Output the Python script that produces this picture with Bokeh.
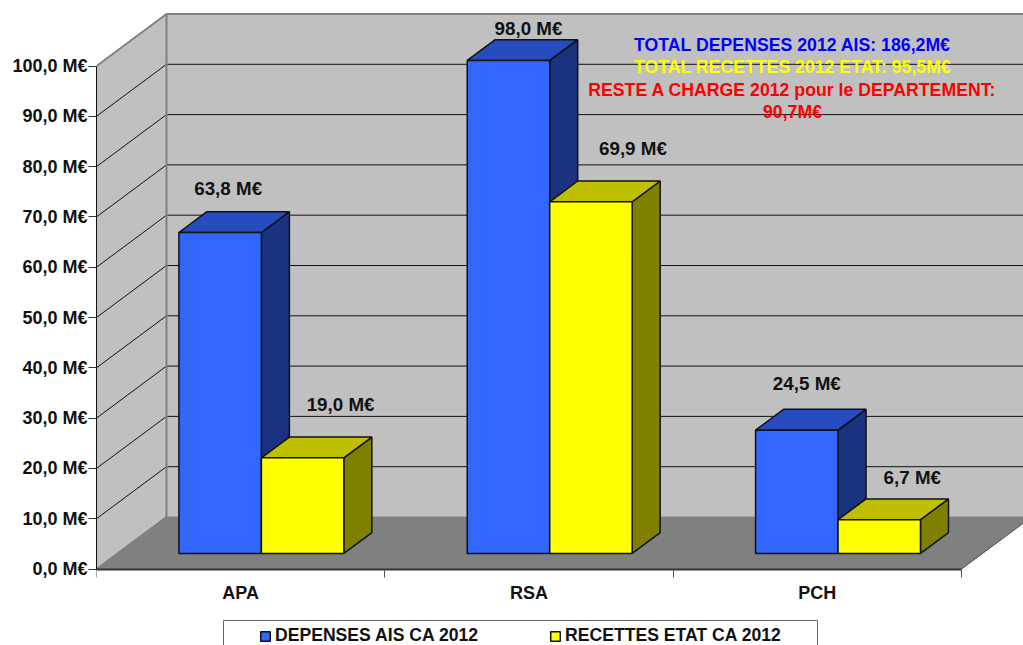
from bokeh.embed import file_html
from bokeh.models import FixedTicker, Legend, LegendItem, Range1d
from bokeh.plotting import figure
from bokeh.resources import INLINE
from bokeh.core.properties import value

# Chart values
categories = ["APA", "RSA", "PCH"]
depenses = [63.8, 98.0, 24.5]
recettes = [19.0, 69.9, 6.7]
y_ticks = [0, 10, 20, 30, 40, 50, 60, 70, 80, 90, 100]
y_tick_labels = ["0,0 M€", "10,0 M€", "20,0 M€", "30,0 M€", "40,0 M€", "50,0 M€",
                 "60,0 M€", "70,0 M€", "80,0 M€", "90,0 M€", "100,0 M€"]
depenses_labels = ["63,8 M€", "98,0 M€", "24,5 M€"]
recettes_labels = ["19,0 M€", "69,9 M€", "6,7 M€"]
totals = ["TOTAL DEPENSES 2012 AIS: 186,2M€", "TOTAL RECETTES 2012 ETAT: 95,5M€",
          "RESTE A CHARGE 2012 pour le DEPARTEMENT:", "90,7M€"]

# Scale and layout of the frame
WIDTH, HEIGHT = 1023, 645
LEFT = 96
CAT_PX = 288.33
UNIT_PX = 5.03
ZERO_PX = 568.5
FRAME_W = WIDTH - LEFT

# Depth of the room and of the bars (as fractions of the room), bar shape
ROOM_DX = 70 / CAT_PX
ROOM_DY = 52 / UNIT_PX
BAR_D0, BAR_D1 = 0.3, 0.7
BAR_W = 0.286
BAR_CENTRE = 0.499


def proj(x, v, d):
    """Oblique projection of a point at depth d (0 = front, 1 = back wall)."""
    return x + d * ROOM_DX, v + d * ROOM_DY


def poly(points):
    pts = [proj(*pt) for pt in points]
    return [a for a, _ in pts], [b for _, b in pts]


def page_x(px):
    return (px - LEFT) / CAT_PX


def page_y(px):
    return (ZERO_PX - px) / UNIT_PX


p = figure(width=WIDTH, height=HEIGHT, output_backend="svg", toolbar_location=None,
           x_range=Range1d(0, FRAME_W / CAT_PX),
           y_range=Range1d(page_y(HEIGHT), page_y(0)),
           min_border_left=LEFT, min_border_right=0, min_border_top=0,
           min_border_bottom=0, outline_line_color=None,
           background_fill_color="white", border_fill_color="white")
p.grid.visible = False

n = len(categories)
top = y_ticks[-1]
WALL = "#C0C0C0"
FLOOR = "#808080"

# Room: side wall, back wall, floor
for pts, colour in [([(0, 0, 0), (0, top, 0), (0, top, 1), (0, 0, 1)], WALL),
                    ([(0, 0, 1), (0, top, 1), (n, top, 1), (n, 0, 1)], WALL),
                    ([(0, 0, 0), (0, 0, 1), (n, 0, 1), (n, 0, 0)], FLOOR)]:
    xs, ys = poly(pts)
    p.patch(xs, ys, fill_color=colour, line_color=colour, line_width=1)

# Gridlines across the side wall and along the back wall
grid_xs, grid_ys = [], []
for t in y_ticks[1:-1]:
    xs, ys = poly([(0, t, 0), (0, t, 1), (n, t, 1)])
    grid_xs.append(xs)
    grid_ys.append(ys)
p.multi_line(grid_xs, grid_ys, line_color="#111111", line_width=1)

# Room edges
edge_xs, edge_ys = [], []
for pts in ([(0, top, 0), (0, top, 1), (n, top, 1)],
            [(0, 0, 0), (0, 0, 1), (0, top, 1)]):
    xs, ys = poly(pts)
    edge_xs.append(xs)
    edge_ys.append(ys)
p.multi_line(edge_xs, edge_ys, line_color="#808080", line_width=2)
xs, ys = poly([(n, 0, 0), (n, 0, 1)])
p.line(xs, ys, line_color="#555555", line_width=1)


def bars(values, offset, front, roof, side):
    """Draw one series of 3D bars; returns the renderer of the front faces."""
    fx, fy, tx, ty, sx, sy = [], [], [], [], [], []
    for i, v in enumerate(values):
        x0 = i + BAR_CENTRE - BAR_W + offset * BAR_W
        x1 = x0 + BAR_W
        a, b = poly([(x0, 0, BAR_D0), (x0, v, BAR_D0), (x1, v, BAR_D0), (x1, 0, BAR_D0)])
        fx.append(a)
        fy.append(b)
        a, b = poly([(x0, v, BAR_D0), (x0, v, BAR_D1), (x1, v, BAR_D1), (x1, v, BAR_D0)])
        tx.append(a)
        ty.append(b)
        a, b = poly([(x1, 0, BAR_D0), (x1, v, BAR_D0), (x1, v, BAR_D1), (x1, 0, BAR_D1)])
        sx.append(a)
        sy.append(b)
    edge = dict(line_color="#111111", line_width=1.5)
    p.patches(sx, sy, fill_color=side, **edge)
    p.patches(tx, ty, fill_color=roof, **edge)
    return p.patches(fx, fy, fill_color=front, **edge)


front_dep = bars(depenses, 0, "#3366FF", "#264CBF", "#1A3380")
front_rec = bars(recettes, 1, "#FFFF00", "#BFBF00", "#808000")

FONT = value("Liberation Sans")


def bar_labels(values, labels, offset, dx, dy):
    x, y = [], []
    for i, v in enumerate(values):
        a, b = proj(i + BAR_CENTRE - BAR_W + (offset + 0.5) * BAR_W, v, BAR_D0)
        x.append(a)
        y.append(b)
    p.text(x, y, text=labels, x_offset=dx, y_offset=dy, text_font=FONT,
           text_font_style="bold", text_font_size="18.8px", text_color="#111111",
           text_align="center", text_baseline="middle")


bar_labels(depenses, depenses_labels, 0, [8, 20, 10], [-44, -32, -47])
bar_labels(recettes, recettes_labels, 1, [38, 42, 33], [-53, -53, -42])

# Summary block in the upper right of the back wall
note_colours = ["#0000FF", "#FFFF00", "#FF0000", "#FF0000"]
note_y_px = [44, 66, 89, 111]
p.text([page_x(792)] * 4, [page_y(y) for y in note_y_px], text=totals,
       text_color=note_colours, text_font=FONT, text_font_style="bold",
       text_font_size="17.7px", text_align="center", text_baseline="middle")

# Value axis
yaxis = p.yaxis[0]
yaxis.ticker = FixedTicker(ticks=y_ticks)
yaxis.bounds = (y_ticks[0], y_ticks[-1])
yaxis.major_label_overrides = dict(zip(y_ticks, y_tick_labels))
yaxis.major_tick_in = 0
yaxis.major_tick_out = 8
yaxis.major_tick_line_color = "#333333"
yaxis.minor_tick_line_color = None
yaxis.axis_line_color = "#111111"
yaxis.major_label_standoff = 1
yaxis.major_label_text_font = "Liberation Sans"
yaxis.major_label_text_font_style = "bold"
yaxis.major_label_text_font_size = "18px"
yaxis.major_label_text_color = "#111111"

# Category axis sits on the zero line: labels centred in each slot, ticks on the slot boundaries
xaxis = p.xaxis[0]
centres = [i + 0.5 for i in range(n)]
xaxis.fixed_location = 0
xaxis.ticker = FixedTicker(ticks=centres, minor_ticks=list(range(n + 1)))
xaxis.bounds = (0, n)
xaxis.major_label_overrides = dict(zip(centres, categories))
xaxis.major_tick_line_color = None
xaxis.major_tick_in = 0
xaxis.major_tick_out = 0
xaxis.minor_tick_in = 0
xaxis.minor_tick_out = 8
xaxis.minor_tick_line_color = "#555555"
xaxis.axis_line_color = "#333333"
xaxis.axis_line_width = 2
xaxis.major_label_standoff = 6
xaxis.major_label_text_font = "Liberation Sans"
xaxis.major_label_text_font_style = "bold"
xaxis.major_label_text_font_size = "18px"
xaxis.major_label_text_color = "#111111"

# Legend frame and entries
p.quad(left=[page_x(223)], right=[page_x(817)], top=[page_y(620)], bottom=[page_y(670)],
       fill_color="white", line_color="#666666", line_width=1)
legend = Legend(items=[LegendItem(label=value("DEPENSES AIS CA 2012"), renderers=[front_dep], index=0),
                       LegendItem(label=value("RECETTES ETAT CA 2012"), renderers=[front_rec], index=0)],
                orientation="horizontal", location=(163, -1),
                background_fill_alpha=0, border_line_color=None, padding=3, margin=0,
                spacing=71, glyph_width=12, glyph_height=12, label_standoff=4, label_height=14,
                label_text_font="Liberation Sans", label_text_font_style="bold",
                label_text_font_size="17.6px", label_text_color="#111111")
p.add_layout(legend)

open("out.html", "w").write(file_html(p, INLINE))
